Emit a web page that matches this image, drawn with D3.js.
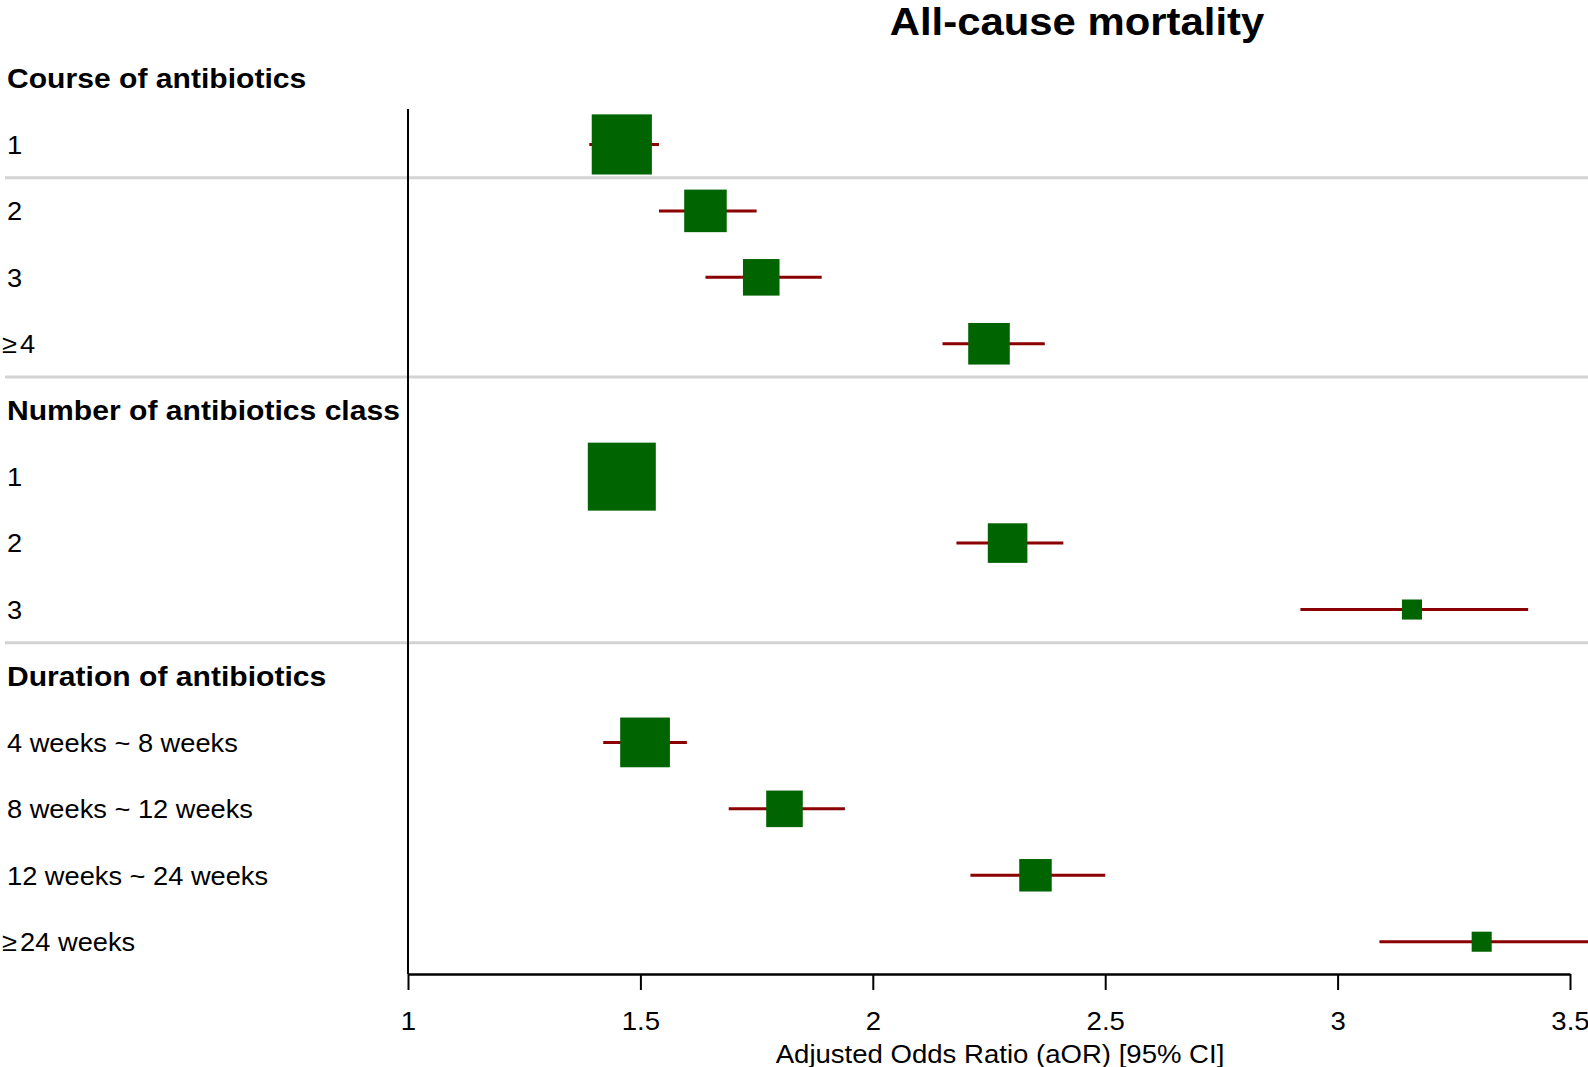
<!DOCTYPE html>
<html>
<head>
<meta charset="utf-8">
<script src="https://cdn.jsdelivr.net/npm/d3@7"></script>
<style>
  html, body { margin: 0; padding: 0; background: #fff; }
  svg { display: block; font-family: "Liberation Sans", Arial, sans-serif; }
</style>
</head>
<body>
<svg id="chart" width="1588" height="1067"></svg>
<script>
// Forest plot rows: group headers and subgroup levels, top to bottom
const rowLabels = [
  "Course of antibiotics", "1", "2", "3", "\u22654",
  "Number of antibiotics class", "1", "2", "3",
  "Duration of antibiotics", "4 weeks ~ 8 weeks", "8 weeks ~ 12 weeks", "12 weeks ~ 24 weeks", "\u226524 weeks"
];
const isHeader = [true, false, false, false, false, true, false, false, false, true, false, false, false, false];

// Adjusted odds ratios and 95% CI (null for header rows)
const aOR   = [null, 1.46, 1.64, 1.76, 2.25, null, 1.46, 2.29, 3.16, null, 1.51, 1.81, 2.35, 3.31];
const lower = [null, 1.39, 1.54, 1.64, 2.15, null, 1.41, 2.18, 2.92, null, 1.42, 1.69, 2.21, 3.09];
const upper = [null, 1.54, 1.75, 1.89, 2.37, null, 1.51, 2.41, 3.41, null, 1.60, 1.94, 2.50, 3.62];
// Relative weight of each estimate (box area)
const weight = [null, 36, 18, 13.3, 17.2, null, 46, 15.6, 4, null, 24.6, 13.3, 10.5, 4];

// Separators drawn after these row indices
const separatorAfter = [1, 4, 8];

const xTicks = [1, 1.5, 2, 2.5, 3, 3.5];
const title = "All-cause mortality";
const xTitle = "Adjusted Odds Ratio (aOR) [95% CI]";

const W = 1588, H = 1067;
const SX = 1.06; // slight horizontal widening of all text
const svg = d3.select("#chart");

const x = d3.scaleLinear().domain([1, 3.5]).range([408, 1570]);
const y = d3.scalePoint().domain(d3.range(rowLabels.length)).range([78, 78 + 13 * 66.44]);
const axisY = 974;
const boxSize = d3.scaleSqrt().domain([0, 46]).range([0, 68]);

const rows = rowLabels.map((label, i) => ({
  i, label, header: isHeader[i], est: aOR[i], lo: lower[i], hi: upper[i], w: weight[i]
}));

// Light separators
svg.append("g").selectAll("line")
  .data(separatorAfter)
  .join("line")
  .attr("x1", 5).attr("x2", W)
  .attr("y1", d => (y(d) + y(d + 1)) / 2)
  .attr("y2", d => (y(d) + y(d + 1)) / 2)
  .attr("stroke", "#d3d3d3")
  .attr("stroke-width", 3);

// Row labels; a leading "≥" gets a little room before the number
const labels = svg.append("g").selectAll("text")
  .data(rows)
  .join("text")
  .attr("transform", d => `translate(${d.label.startsWith("\u2265") ? 2 : 7},${y(d.i)}) scale(${SX},1)`)
  .attr("dy", "0.36em")
  .attr("font-size", d => d.header ? 28.4 : 25.7)
  .attr("font-weight", d => d.header ? "bold" : "normal")
  .attr("fill", "#000");
labels.each(function(d) {
  const t = d3.select(this);
  if (d.label.startsWith("\u2265")) {
    t.append("tspan").text("\u2265");
    t.append("tspan").attr("dx", 3).text(d.label.slice(1));
  } else {
    t.text(d.label);
  }
});

// Plot area clipped to the page
svg.append("defs").append("clipPath").attr("id", "plotClip")
  .append("rect").attr("x", 408).attr("y", 0).attr("width", W - 408).attr("height", axisY);

const est = rows.filter(d => !d.header);
const marks = svg.append("g").attr("clip-path", "url(#plotClip)");

// Confidence intervals
marks.selectAll("line.ci")
  .data(est)
  .join("line")
  .attr("class", "ci")
  .attr("x1", d => x(d.lo)).attr("x2", d => x(d.hi))
  .attr("y1", d => y(d.i)).attr("y2", d => y(d.i))
  .attr("stroke", "#8b0000")
  .attr("stroke-width", 3);

// Point estimates, sized by weight
marks.selectAll("rect.box")
  .data(est)
  .join("rect")
  .attr("class", "box")
  .attr("x", d => x(d.est) - boxSize(d.w) / 2)
  .attr("y", d => y(d.i) - boxSize(d.w) / 2)
  .attr("width", d => boxSize(d.w))
  .attr("height", d => boxSize(d.w))
  .attr("fill", "#006400");

// Reference line at aOR = 1
svg.append("line")
  .attr("x1", x(1)).attr("x2", x(1))
  .attr("y1", 109).attr("y2", axisY)
  .attr("stroke", "#000")
  .attr("stroke-width", 2);

// X axis
const gx = svg.append("g")
  .attr("transform", `translate(0,${axisY})`)
  .call(d3.axisBottom(x).tickValues(xTicks).tickFormat(d3.format("")).tickSize(16).tickPadding(22).tickSizeOuter(0));
gx.select(".domain").attr("stroke", "#000").attr("stroke-width", 2.5);
gx.selectAll(".tick line").attr("stroke", "#000").attr("stroke-width", 2);
gx.selectAll(".tick text")
  .attr("font-size", 26)
  .attr("font-family", "Liberation Sans, Arial, sans-serif")
  .attr("transform", `scale(${SX},1)`)
  .attr("fill", "#000");

svg.append("text")
  .attr("transform", `translate(1000,1063) scale(${SX},1)`)
  .attr("text-anchor", "middle")
  .attr("font-size", 26)
  .attr("fill", "#000")
  .text(xTitle);

svg.append("text")
  .attr("transform", `translate(1077,35) scale(${SX},1)`)
  .attr("text-anchor", "middle")
  .attr("font-size", 39.5)
  .attr("font-weight", "bold")
  .attr("fill", "#000")
  .text(title);
</script>
</body>
</html>
